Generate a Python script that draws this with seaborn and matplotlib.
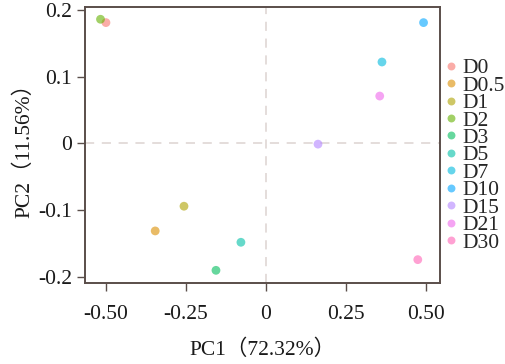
import pandas as pd
import matplotlib
matplotlib.use("Agg")
import matplotlib.pyplot as plt
import seaborn as sns

# Dados da PCA
grupos = ["D0", "D0.5", "D1", "D2", "D3", "D5", "D7", "D10", "D15", "D21", "D30"]
pc1 = [-0.500, -0.346, -0.256, -0.517, -0.156, -0.078, 0.363, 0.493, 0.163, 0.356, 0.475]
pc2 = [0.181, -0.131, -0.094, 0.186, -0.190, -0.148, 0.122, 0.181, -0.001, 0.071, -0.174]
cores = ["#F8766D", "#DB8E00", "#AEA200", "#64B200", "#00BD5C", "#00C1A7",
         "#00BADE", "#00A6FF", "#B385FF", "#EF67EB", "#FF63B6"]

df = pd.DataFrame({"PC1": pc1, "PC2": pc2, "grupo": grupos})

sns.set_style("white")
plt.rcParams['font.family'] = ['Liberation Serif', 'Noto Sans CJK SC']

fig = plt.figure(figsize=(5.05, 3.64), dpi=100)
ax = fig.add_axes([0.168, 0.2225, 0.703, 0.7585])

# linhas de referência tracejadas em zero
ax.axhline(0, color="#ddd3d1", ls=(0, (6, 5)), lw=1.1, zorder=0)
ax.axvline(0, color="#ddd3d1", ls=(0, (6, 5)), lw=1.1, zorder=0)

sns.scatterplot(data=df, x="PC1", y="PC2", hue="grupo", hue_order=grupos,
                palette=cores, s=40, alpha=0.6, edgecolor="none", ax=ax)

ax.set_xlim(-0.566, 0.544)
ax.set_ylim(-0.209, 0.2045)
ax.set_xticks([-0.5, -0.25, 0, 0.25, 0.5])
ax.set_xticklabels(["-0.50", "-0.25", "0", "0.25", "0.50"])
ax.set_yticks([-0.2, -0.1, 0, 0.1, 0.2])
ax.set_yticklabels(["-0.2", "-0.1", "0", "0.1", "0.2"])
ax.tick_params(axis="both", which="both", direction="out", length=6, width=1,
               color="#5a4e4a", labelsize=15.5, labelcolor="#1a1a1a",
               left=True, bottom=True)
ax.tick_params(axis="x", pad=10)
ax.tick_params(axis="y", pad=3)
for s in ax.spines.values():
    s.set_color("#5a4e4a")
    s.set_linewidth(1.4)

ax.set_xlabel("PC1（72.32%）", fontsize=15.5, color="#1a1a1a", labelpad=11)
ax.set_ylabel("PC2（11.56%）", fontsize=15.5, color="#1a1a1a", labelpad=3)

leg = ax.legend(loc="upper left", bbox_to_anchor=(1.014, 0.815), frameon=False,
                fontsize=15.5, labelspacing=-0.12, handletextpad=0.2,
                handlelength=0.6, borderaxespad=0, borderpad=0, title=None,
                markerscale=0.9)
for h in leg.legend_handles:
    h.set_alpha(0.6)

fig.savefig("out.png", dpi=100)
